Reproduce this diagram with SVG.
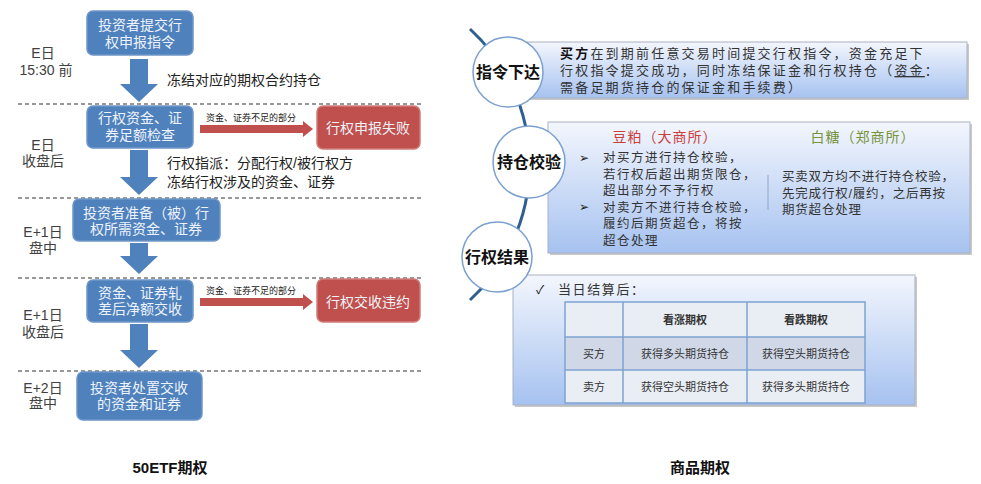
<svg xmlns="http://www.w3.org/2000/svg" width="981" height="484" viewBox="0 0 981 484">
<defs>
<linearGradient id="bg" x1="0" y1="0" x2="0" y2="1">
<stop offset="0" stop-color="#f3f6fd"/>
<stop offset="1" stop-color="#a6c2f0"/>
</linearGradient>
</defs>
<style>
text{font-family:"Liberation Sans","Noto Sans CJK SC",sans-serif;}
.bx{fill:#4f81bd;stroke:#6f96c8;stroke-width:1.5;}
.rb{fill:#c0504d;stroke:#d07c7a;stroke-width:1.5;}
.wt{fill:#eef3fa;font-size:14px;text-anchor:middle;}
.lb{fill:#404040;font-size:14px;text-anchor:middle;}
.mt{fill:#222;font-size:14px;}
.sm{fill:#222;font-size:9px;}
.ba{fill:#4f81bd;}
.dash{stroke:#777;stroke-width:1.5;stroke-dasharray:4 3;fill:none;}
.rp{fill:url(#bg);stroke:#a8b2c4;stroke-width:1;}
.sh{fill:#c9c9c9;}
.ct{fill:#fff;stroke:#7b9fd0;stroke-width:1.5;}
.cl{fill:#111;font-size:16px;font-weight:bold;text-anchor:middle;}
.rt{fill:#333;font-size:12.5px;letter-spacing:1.5px;}
.tt{fill:#333;font-size:11px;text-anchor:middle;}
.title{fill:#111;font-size:15px;font-weight:bold;text-anchor:middle;}
</style>
<rect width="981" height="484" fill="#fff"/>

<!-- left panel -->
<g id="dividers">
<line class="dash" x1="18" y1="104" x2="423" y2="104"/>
<line class="dash" x1="18" y1="198" x2="423" y2="198"/>
<line class="dash" x1="18" y1="278" x2="423" y2="278"/>
<line class="dash" x1="18" y1="371" x2="423" y2="371"/>
</g>
<g id="time-labels">
<text class="lb" y="58"><tspan x="43">E日</tspan><tspan x="46" dy="17">15:30 前</tspan></text>
<text class="lb" y="150"><tspan x="43">E日</tspan><tspan x="43" dy="16">收盘后</tspan></text>
<text class="lb" y="237"><tspan x="43">E+1日</tspan><tspan x="43" dy="16">盘中</tspan></text>
<text class="lb" y="320"><tspan x="43">E+1日</tspan><tspan x="43" dy="17">收盘后</tspan></text>
<text class="lb" y="393"><tspan x="43">E+2日</tspan><tspan x="43" dy="15">盘中</tspan></text>
</g>
<g id="connectors">
<path class="ba" d="M130,59 H148 V84 H158 L139,102 L120,84 H130 Z"/>
<path class="ba" d="M130,150 H148 V177 H158 L139,195 L120,177 H130 Z"/>
<path class="ba" d="M130,243 H148 V256 H158 L139,274 L120,256 H130 Z"/>
<path class="ba" d="M130,324 H148 V350 H158 L139,368 L120,350 H130 Z"/>
<path d="M200,125 H303 V121 L313,129 L303,137 V133 H200 Z" fill="#c0504d"/>
<path d="M200,298 H303 V294 L313,302 L303,310 V306 H200 Z" fill="#c0504d"/>
<text class="sm" x="206" y="121">资金、证券不足的部分</text>
<text class="sm" x="206" y="294">资金、证券不足的部分</text>
<text class="mt" x="167" y="85">冻结对应的期权合约持仓</text>
<text class="mt" y="168"><tspan x="167">行权指派：分配行权/被行权方</tspan><tspan x="167" dy="19">冻结行权涉及的资金、证券</tspan></text>
<path d="M470,29 A184,184 0 0 1 470,300" fill="none" stroke="#2e5f90" stroke-width="3"/>
</g>
<g id="n1">
<rect class="bx" x="87" y="11" width="106" height="44" rx="6"/>
<text class="wt" y="30"><tspan x="140">投资者提交行</tspan><tspan x="140" dy="17">权申报指令</tspan></text>
</g>
<g id="n2">
<rect class="bx" x="87" y="106" width="106" height="42" rx="6"/>
<text class="wt" y="123"><tspan x="140">行权资金、证</tspan><tspan x="140" dy="17">券足额检查</tspan></text>
</g>
<g id="n2f">
<rect class="rb" x="317" y="106" width="103" height="43" rx="6"/>
<text class="wt" x="368" y="133">行权申报失败</text>
</g>
<g id="n3">
<rect class="bx" x="73" y="199" width="147" height="42" rx="6"/>
<text class="wt" y="218"><tspan x="146">投资者准备（被）行</tspan><tspan x="146" dy="16">权所需资金、证券</tspan></text>
</g>
<g id="n4">
<rect class="bx" x="87" y="280" width="106" height="42" rx="6"/>
<text class="wt" y="298"><tspan x="140">资金、证券轧</tspan><tspan x="140" dy="16">差后净额交收</tspan></text>
</g>
<g id="n4f">
<rect class="rb" x="317" y="279" width="103" height="43" rx="6"/>
<text class="wt" x="368" y="307">行权交收违约</text>
</g>
<g id="n5">
<rect class="bx" x="77" y="372" width="125" height="48" rx="6"/>
<text class="wt" y="393"><tspan x="139">投资者处置交收</tspan><tspan x="139" dy="16">的资金和证券</tspan></text>
</g>

<!-- right panel -->
<g id="p1">
<rect class="sh" x="529" y="44" width="440" height="56"/>
<rect class="rp" x="527" y="42" width="440" height="56"/>
<text class="rt" y="58" style="font-size:13px;letter-spacing:2.2px"><tspan x="560"><tspan font-weight="bold" fill="#111">买方</tspan>在到期前任意交易时间提交行权指令，资金充足下</tspan><tspan x="560" dy="17">行权指令提交成功，同时冻结保证金和行权持仓（<tspan text-decoration="underline">资金</tspan>：</tspan><tspan x="560" dy="17">需备足期货持仓的保证金和手续费）</tspan></text>
</g>
<g id="p2">
<rect class="sh" x="550" y="124" width="422" height="131"/>
<rect class="rp" x="548" y="122" width="422" height="131"/>
<text x="665" y="142" font-size="14" fill="#c9403d" text-anchor="middle" letter-spacing="1">豆粕（大商所）</text>
<text x="863" y="142" font-size="14" fill="#77933c" text-anchor="middle" letter-spacing="1">白糖（郑商所）</text>
<text x="579" y="162" font-size="12" fill="#222">➢</text>
<text x="579" y="211" font-size="12" fill="#222">➢</text>
<text class="rt" y="162"><tspan x="603">对买方进行持仓校验，</tspan><tspan x="603" dy="16.5">若行权后超出期货限仓，</tspan><tspan x="603" dy="16.5">超出部分不予行权</tspan><tspan x="603" dy="16.5">对卖方不进行持仓校验，</tspan><tspan x="603" dy="16.5">履约后期货超仓，将按</tspan><tspan x="603" dy="16.5">超仓处理</tspan></text>
<line x1="768" y1="175" x2="768" y2="210" stroke="#8fa6c8" stroke-width="1"/>
<text class="rt" y="181" style="letter-spacing:0.8px"><tspan x="782">买卖双方均不进行持仓校验，</tspan><tspan x="782" dy="16.5">先完成行权/履约，之后再按</tspan><tspan x="782" dy="16.5">期货超仓处理</tspan></text>
</g>
<g id="p3">
<rect class="sh" x="515" y="277" width="402" height="130"/>
<rect class="rp" x="513" y="275" width="402" height="130"/>
<text x="536" y="294" font-size="12" fill="#222">✓</text>
<text class="rt" x="558" y="294" style="font-size:13px;letter-spacing:1.6px">当日结算后：</text>
<rect x="565" y="302" width="300" height="35" fill="#e9edf4"/>
<rect x="565" y="337" width="300" height="33" fill="#d0d8e8"/>
<rect x="565" y="370" width="300" height="33" fill="#e9edf4"/>
<g stroke="#7da2d2" stroke-width="1.5" fill="none">
<rect x="565" y="302" width="300" height="101"/>
<line x1="623" y1="302" x2="623" y2="403"/>
<line x1="747" y1="302" x2="747" y2="403"/>
<line x1="565" y1="337" x2="865" y2="337"/>
<line x1="565" y1="370" x2="865" y2="370"/>
</g>
<text class="tt" x="685" y="324" font-weight="bold">看涨期权</text>
<text class="tt" x="806" y="324" font-weight="bold">看跌期权</text>
<text class="tt" x="594" y="358">买方</text>
<text class="tt" x="685" y="358">获得多头期货持仓</text>
<text class="tt" x="806" y="358">获得空头期货持仓</text>
<text class="tt" x="594" y="391">卖方</text>
<text class="tt" x="685" y="391">获得空头期货持仓</text>
<text class="tt" x="806" y="391">获得多头期货持仓</text>
</g>
<g id="c1">
<circle class="ct" cx="508" cy="72" r="35"/>
<text class="cl" x="508" y="78">指令下达</text>
</g>
<g id="c2">
<circle class="ct" cx="529" cy="162" r="36"/>
<text class="cl" x="529" y="168">持仓校验</text>
</g>
<g id="c3">
<circle class="ct" cx="497" cy="257" r="35"/>
<text class="cl" x="497" y="263">行权结果</text>
</g>

<g id="titles">
<text class="title" x="170" y="473">50ETF期权</text>
<text class="title" x="700" y="473">商品期权</text>
</g>
</svg>
